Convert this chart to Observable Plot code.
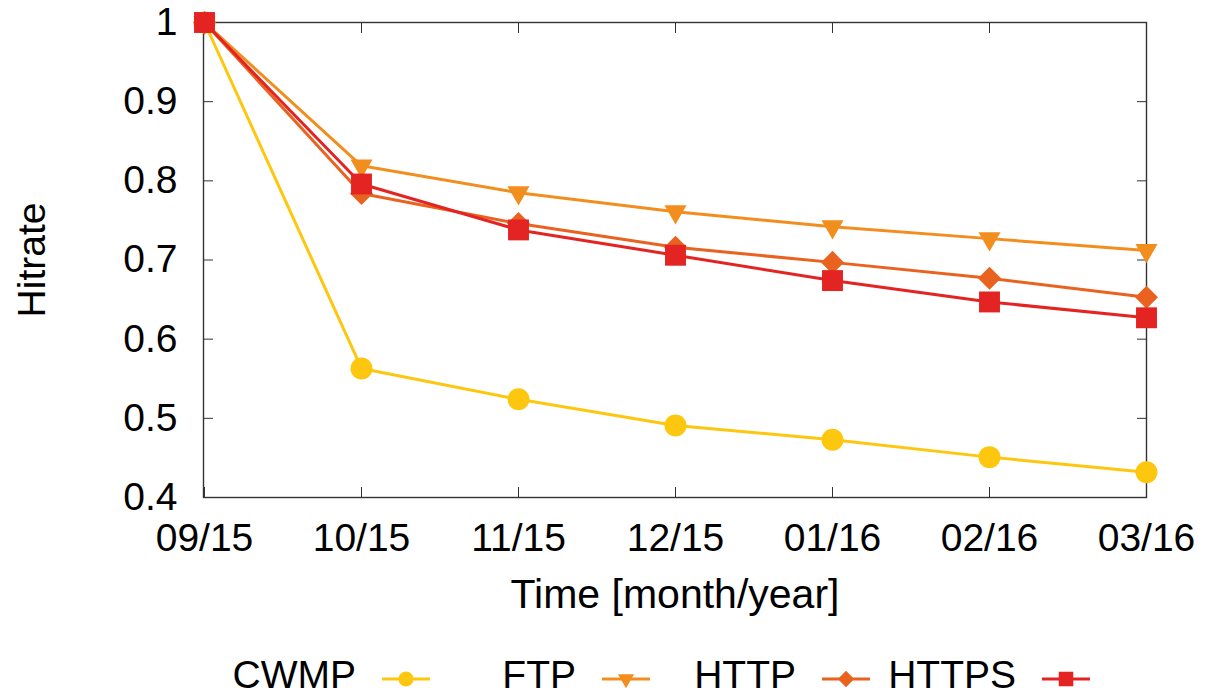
<!DOCTYPE html>
<html><head><meta charset="utf-8">
<script src="https://cdn.jsdelivr.net/npm/d3@7"></script>
<script src="https://cdn.jsdelivr.net/npm/@observablehq/plot@0.6"></script>
<style>
body{margin:0;background:#fff;}
#wrap{position:relative;width:1215px;height:696px;font-family:"Liberation Sans",Arial,sans-serif;}
#wrap svg.plot{position:absolute;left:0;top:0;}
#wrap svg.plot g[aria-label="x-axis label"]{font-size:41px;}
.lgt{position:absolute;top:660px;font-size:39px;line-height:30px;color:#000;text-align:right;white-space:nowrap;}
.lgs{position:absolute;top:663px;}
</style></head><body><div id="wrap"></div>
<script>
// ---- data ----
const months = ["09/15","10/15","11/15","12/15","01/16","02/16","03/16"];
const seriesNames = ["CWMP","FTP","HTTP","HTTPS"];
const cwmp  = [1, 0.563, 0.524, 0.491, 0.473, 0.451, 0.432];
const ftp   = [1, 0.819, 0.785, 0.761, 0.742, 0.727, 0.712];
const http  = [1, 0.784, 0.746, 0.716, 0.697, 0.677, 0.653];
const https = [1, 0.796, 0.738, 0.706, 0.674, 0.647, 0.627];
const yTicks = [0.4, 0.5, 0.6, 0.7, 0.8, 0.9, 1];
const seriesColors = ["#fdc70f", "#f28e1e", "#e9621f", "#e32422"];

// ---- symbols ----
const triDown = {draw(ctx, size){const w=Math.sqrt(size/(Math.sqrt(3)/4)); const h=w*Math.sqrt(3)/2; ctx.moveTo(-w/2,-h/3); ctx.lineTo(w/2,-h/3); ctx.lineTo(0,2*h/3); ctx.closePath();}};
const diamond = {draw(ctx, size){const a=Math.sqrt(size/2); ctx.moveTo(0,-a); ctx.lineTo(a,0); ctx.lineTo(0,a); ctx.lineTo(-a,0); ctx.closePath();}};
const seriesSymbols = [d3.symbolCircle, triDown, diamond, d3.symbolSquare];
const plotRadius = [11, 8.2, 9.2, 11.8];
const legendRadius = [7.6, 6, 6.5, 8.2];

const values = [cwmp, ftp, http, https];
const rows = seriesNames.map((s, i) => months.map((m, j) => ({series: s, month: m, value: values[i][j]})));

const marks = [];
marks.push(Plot.frame({stroke: "#333", strokeWidth: 1.4}));
marks.push(Plot.axisY({ticks: yTicks, tickSize: -10, tickPadding: 36, stroke: "#333",
  tickFormat: d => String(+d.toFixed(1)), label: "Hitrate", labelAnchor: "center", labelOffset: 186, labelArrow: "none"}));
marks.push(Plot.axisY({anchor: "right", ticks: yTicks, tickSize: -10, stroke: "#333", tickFormat: () => "", label: null}));
marks.push(Plot.axisX({tickSize: -10, tickPadding: 36, stroke: "#333", label: "Time [month/year]", labelAnchor: "center", labelOffset: 110}));
marks.push(Plot.axisX({anchor: "top", tickSize: -10, stroke: "#333", tickFormat: () => "", label: null}));
rows.forEach((r, i) => {
  marks.push(Plot.line(r, {x: "month", y: "value", stroke: seriesColors[i], strokeWidth: 3}));
  marks.push(Plot.dot(r, {x: "month", y: "value", fill: seriesColors[i], r: plotRadius[i], symbol: seriesSymbols[i]}));
});

const chart = Plot.plot({
  width: 1215, height: 640,
  marginLeft: 203, marginRight: 69, marginTop: 22, marginBottom: 143,
  style: {fontFamily: "'Liberation Sans', Arial, sans-serif", fontSize: "39px", color: "#000", background: "#fff", overflow: "visible"},
  x: {type: "point", domain: months, padding: 0},
  y: {domain: [0.4, 1]},
  marks
});
chart.classList.add("plot");
const wrap = document.getElementById("wrap");
wrap.appendChild(chart);

// ---- legend ----
const legendTextRight = [356, 576, 796, 1016];
const legendSymCenter = [406, 626, 846, 1066];
seriesNames.forEach((s, i) => {
  const t = document.createElement("div");
  t.className = "lgt";
  t.textContent = s;
  t.style.right = (1215 - legendTextRight[i]) + "px";
  wrap.appendChild(t);
  const svg = d3.create("svg").attr("class", "lgs").attr("width", 52).attr("height", 32)
    .style("left", (legendSymCenter[i] - 26) + "px");
  svg.append("line").attr("x1", 2).attr("x2", 50).attr("y1", 16).attr("y2", 16)
    .attr("stroke", seriesColors[i]).attr("stroke-width", 3);
  svg.append("path").attr("transform", "translate(26,16)")
    .attr("d", d3.symbol(seriesSymbols[i], Math.PI * legendRadius[i] ** 2)())
    .attr("fill", seriesColors[i]);
  wrap.appendChild(svg.node());
});
</script></body></html>
